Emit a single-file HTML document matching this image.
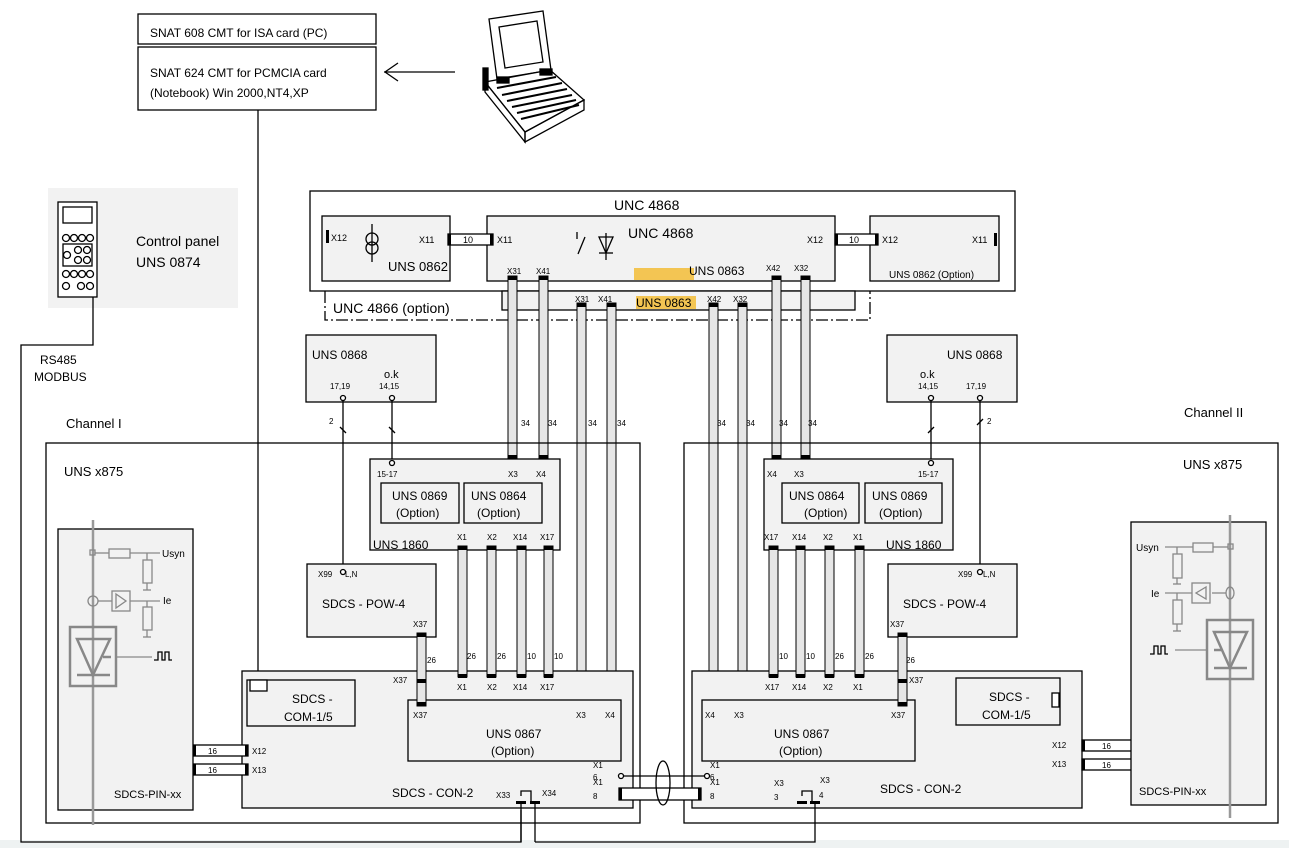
<!DOCTYPE html>
<html><head><meta charset="utf-8"><style>
html,body{margin:0;padding:0;background:#fff;width:1289px;height:848px;overflow:hidden}
svg{display:block;font-family:"Liberation Sans",sans-serif}
.b{fill:#f2f2f2;stroke:#000;stroke-width:1.3}
.w{fill:#fff;stroke:#000;stroke-width:1.3}
.l{stroke:#000;stroke-width:1.3;fill:none}
.r{fill:#e6e6e6;stroke:#000;stroke-width:1}
.c{fill:#000}
.g{stroke:#888;fill:none;stroke-width:1.3}
</style></head><body>
<svg width="1289" height="848" viewBox="0 0 1289 848" xmlns="http://www.w3.org/2000/svg">
<rect x="0" y="840" width="1289" height="8" fill="#eef2f2"/>
<!-- SNAT boxes -->
<rect class="w" x="138" y="14" width="238" height="30"/>
<text x="150" y="37" font-size="12">SNAT 608 CMT for ISA card (PC)</text>
<rect class="w" x="138" y="47" width="238" height="63"/>
<text x="150" y="77" font-size="12">SNAT 624 CMT for PCMCIA card</text>
<text x="150" y="97" font-size="12">(Notebook) Win 2000,NT4,XP</text>
<line class="l" x1="258" y1="110" x2="258" y2="680"/>
<line class="l" x1="384" y1="72" x2="455" y2="72" stroke-width="2.2"/>
<polyline class="l" points="398,63 385,72 398,81" stroke-width="2.5"/>
<!-- laptop -->
<g class="l" stroke-width="1.2">
<polygon points="489,19 543,11 551,70 497,79" fill="#fff"/>
<polygon points="499,27 537,21 543,62 505,68"/>
<polygon points="485,82 550,70 584,100 525,132" fill="#fff"/>
<polygon points="485,82 485,92 525,142 525,132"/>
<polygon points="525,132 584,100 584,110 525,142"/>
<line x1="497" y1="88" x2="556" y2="77" stroke-width="2"/><line x1="502" y1="95" x2="562" y2="83" stroke-width="2"/><line x1="507" y1="101" x2="567" y2="89" stroke-width="2"/><line x1="512" y1="107" x2="572" y2="95" stroke-width="2"/><line x1="517" y1="113" x2="576" y2="100" stroke-width="2"/><line x1="521" y1="119" x2="579" y2="105" stroke-width="2"/>
<rect x="483" y="68" width="5" height="22" fill="#000"/>
<rect x="497" y="77" width="12" height="6" fill="#000"/><rect x="540" y="69" width="12" height="6" fill="#000"/>
</g>
<!-- control panel -->
<rect x="48" y="188" width="190" height="120" fill="#f2f2f2"/>
<rect class="w" x="58" y="202" width="39" height="95" stroke-width="1.5"/>
<rect class="l" x="63" y="207" width="29" height="16"/>
<rect class="l" x="63" y="244" width="29" height="22"/>
<g class="l" stroke-width="1">
<circle cx="66" cy="238" r="3.5"/><circle cx="74" cy="238" r="3.5"/><circle cx="82" cy="238" r="3.5"/><circle cx="90" cy="238" r="3.5"/>
<circle cx="67" cy="255" r="3.5"/><circle cx="78" cy="250" r="3.5"/><circle cx="87" cy="250" r="3.5"/><circle cx="78" cy="260" r="3.5"/><circle cx="87" cy="260" r="3.5"/>
<circle cx="66" cy="274" r="3.5"/><circle cx="74" cy="274" r="3.5"/><circle cx="82" cy="274" r="3.5"/><circle cx="90" cy="274" r="3.5"/>
<circle cx="66" cy="286" r="3.5"/><circle cx="81" cy="286" r="3.5"/><circle cx="90" cy="286" r="3.5"/>
</g>
<text x="136" y="246" font-size="14">Control panel</text>
<text x="136" y="267" font-size="14">UNS 0874</text>
<polyline class="l" points="93,297 93,345 21,345 21,842 521,842 521,810"/>
<text x="40" y="364" font-size="12">RS485</text>
<text x="34" y="381" font-size="12">MODBUS</text>
<!-- UNC 4868 -->
<rect class="w" x="310" y="191" width="705" height="100"/>
<text x="614" y="210" font-size="14">UNC 4868</text>
<rect class="b" x="502" y="291" width="353" height="19"/>
<polyline class="l" points="325,291 325,320 870,320 870,291" stroke-width="2" stroke-dasharray="12,3,2,3"/>
<text x="333" y="313" font-size="14">UNC 4866 (option)</text>
<rect x="636" y="296" width="60" height="13" fill="#f3c553"/>
<text x="636" y="307" font-size="12">UNS 0863</text>
<rect class="b" x="322" y="216" width="128" height="65"/>
<rect class="c" x="326" y="230" width="3" height="13"/>
<text x="331" y="241" font-size="9">X12</text>
<text x="419" y="243" font-size="9">X11</text>
<line class="l" x1="372" y1="224" x2="372" y2="262"/><circle class="l" cx="372" cy="239" r="6"/><circle class="l" cx="372" cy="248" r="6"/>
<text x="388" y="271" font-size="13">UNS 0862</text>
<rect class="b" x="487" y="216" width="348" height="65"/>
<text x="628" y="238" font-size="14">UNC 4868</text>
<line class="l" x1="577" y1="232" x2="577" y2="239"/><line class="l" x1="585" y1="237" x2="578" y2="254"/>
<polygon class="l" points="599,237 613,237 606,253"/><line class="l" x1="599" y1="253" x2="613" y2="253"/><line class="l" x1="606" y1="233" x2="606" y2="260"/>
<rect x="634" y="268" width="60" height="12" fill="#f3c553"/>
<text x="689" y="275" font-size="12">UNS 0863</text>
<text x="497" y="243" font-size="9">X11</text>
<text x="807" y="243" font-size="9">X12</text>
<rect class="b" x="870" y="216" width="129" height="65"/>
<text x="882" y="243" font-size="9">X12</text><text x="972" y="243" font-size="9">X11</text>
<rect class="c" x="994" y="233" width="3" height="13"/>
<text x="889" y="278" font-size="10">UNS 0862 (Option)</text>
<rect class="w" x="448" y="234" width="45" height="11"/><rect class="c" x="448" y="234" width="3" height="11"/><rect class="c" x="490" y="234" width="3" height="11"/>
<text x="463" y="243" font-size="9">10</text>
<rect class="w" x="835" y="234" width="43" height="11"/><rect class="c" x="835" y="234" width="3" height="11"/><rect class="c" x="875" y="234" width="3" height="11"/>
<text x="849" y="243" font-size="9">10</text>
<!-- long ribbons -->
<g font-size="8">
<text x="507" y="274">X31</text><text x="536" y="274">X41</text><text x="766" y="271">X42</text><text x="794" y="271">X32</text>
<text x="575" y="302">X31</text><text x="598" y="302">X41</text><text x="707" y="302">X42</text><text x="733" y="302">X32</text>
</g>
<rect class="r" x="508" y="276" width="9" height="182"/><rect class="c" x="508" y="276" width="9" height="4"/><rect class="c" x="508" y="455" width="9" height="4"/>
<rect class="r" x="539" y="276" width="9" height="182"/><rect class="c" x="539" y="276" width="9" height="4"/><rect class="c" x="539" y="455" width="9" height="4"/>
<rect class="r" x="577" y="303" width="9" height="400"/><rect class="c" x="577" y="303" width="9" height="4"/><rect class="c" x="577" y="700" width="9" height="4"/>
<rect class="r" x="607" y="303" width="9" height="400"/><rect class="c" x="607" y="303" width="9" height="4"/><rect class="c" x="607" y="700" width="9" height="4"/>
<rect class="r" x="709" y="303" width="9" height="400"/><rect class="c" x="709" y="303" width="9" height="4"/><rect class="c" x="709" y="700" width="9" height="4"/>
<rect class="r" x="738" y="303" width="9" height="400"/><rect class="c" x="738" y="303" width="9" height="4"/><rect class="c" x="738" y="700" width="9" height="4"/>
<rect class="r" x="772" y="276" width="9" height="182"/><rect class="c" x="772" y="276" width="9" height="4"/><rect class="c" x="772" y="455" width="9" height="4"/>
<rect class="r" x="801" y="276" width="9" height="182"/><rect class="c" x="801" y="276" width="9" height="4"/><rect class="c" x="801" y="455" width="9" height="4"/>
<g font-size="8"><text x="521" y="426">34</text><text x="548" y="426">34</text><text x="588" y="426">34</text><text x="617" y="426">34</text><text x="717" y="426">34</text><text x="746" y="426">34</text><text x="779" y="426">34</text><text x="808" y="426">34</text></g>
<!-- UNS 0868 -->
<rect class="b" x="306" y="335" width="130" height="67"/>
<text x="312" y="359" font-size="12">UNS 0868</text><text x="384" y="378" font-size="11">o.k</text>
<text x="330" y="389" font-size="8">17,19</text><text x="379" y="389" font-size="8">14,15</text>
<rect class="b" x="887" y="335" width="130" height="67"/>
<text x="947" y="359" font-size="12">UNS 0868</text><text x="920" y="378" font-size="11">o.k</text>
<text x="918" y="389" font-size="8">14,15</text><text x="966" y="389" font-size="8">17,19</text>
<!-- channel boxes -->
<text x="66" y="428" font-size="13">Channel I</text>
<text x="1184" y="417" font-size="13">Channel II</text>
<rect class="l" x="46" y="443" width="594" height="380"/>
<rect class="l" x="684" y="443" width="594" height="380"/>
<text x="64" y="476" font-size="13">UNS x875</text>
<text x="1183" y="469" font-size="13">UNS x875</text>
<!-- wires from 0868 -->
<line class="l" x1="343" y1="398" x2="343" y2="572"/><line class="l" x1="392" y1="398" x2="392" y2="462"/>
<line class="l" x1="931" y1="398" x2="931" y2="462"/><line class="l" x1="980" y1="398" x2="980" y2="572"/>
<g class="l" stroke-width="1"><line x1="340" y1="427" x2="346" y2="433"/><line x1="389" y1="427" x2="395" y2="433"/><line x1="928" y1="433" x2="934" y2="427"/><line x1="977" y1="425" x2="983" y2="419"/></g>
<text x="329" y="424" font-size="8">2</text><text x="987" y="424" font-size="8">2</text>
<!-- UNS 1860 left -->
<rect class="b" x="370" y="459" width="190" height="91"/>
<text x="377" y="477" font-size="8">15-17</text><text x="508" y="477" font-size="8">X3</text><text x="536" y="477" font-size="8">X4</text>
<rect class="b" x="381" y="483" width="78" height="40"/><text x="392" y="500" font-size="12">UNS 0869</text><text x="396" y="517" font-size="12">(Option)</text>
<rect class="b" x="464" y="483" width="78" height="40"/><text x="471" y="500" font-size="12">UNS 0864</text><text x="477" y="517" font-size="12">(Option)</text>
<text x="373" y="549" font-size="12">UNS 1860</text>
<g font-size="8"><text x="457" y="540">X1</text><text x="487" y="540">X2</text><text x="513" y="540">X14</text><text x="540" y="540">X17</text></g>
<!-- UNS 1860 right -->
<rect class="b" x="764" y="459" width="189" height="91"/>
<text x="767" y="477" font-size="8">X4</text><text x="794" y="477" font-size="8">X3</text><text x="918" y="477" font-size="8">15-17</text>
<rect class="b" x="782" y="483" width="77" height="40"/><text x="789" y="500" font-size="12">UNS 0864</text><text x="804" y="517" font-size="12">(Option)</text>
<rect class="b" x="865" y="483" width="77" height="40"/><text x="872" y="500" font-size="12">UNS 0869</text><text x="879" y="517" font-size="12">(Option)</text>
<text x="886" y="549" font-size="12">UNS 1860</text>
<g font-size="8"><text x="764" y="540">X17</text><text x="792" y="540">X14</text><text x="823" y="540">X2</text><text x="853" y="540">X1</text></g>
<circle class="w" cx="392" cy="463" r="2.5"/><circle class="w" cx="931" cy="463" r="2.5"/>
<circle class="w" cx="392" cy="398" r="2.5"/><circle class="w" cx="343" cy="398" r="2.5"/><circle class="w" cx="931" cy="398" r="2.5"/><circle class="w" cx="980" cy="398" r="2.5"/>
<!-- POW -->
<rect class="b" x="307" y="564" width="129" height="73"/>
<text x="318" y="577" font-size="8">X99</text><text x="345" y="577" font-size="8">L,N</text><circle class="w" cx="343" cy="572" r="2.5"/>
<text x="322" y="608" font-size="12">SDCS - POW-4</text><text x="413" y="627" font-size="8">X37</text>
<rect class="b" x="888" y="564" width="129" height="73"/>
<text x="958" y="577" font-size="8">X99</text><text x="983" y="577" font-size="8">L,N</text><circle class="w" cx="980" cy="572" r="2.5"/>
<text x="903" y="608" font-size="12">SDCS - POW-4</text><text x="890" y="627" font-size="8">X37</text>
<!-- CON-2 left -->
<rect class="b" x="242" y="671" width="391" height="137"/>
<rect class="b" x="247" y="680" width="108" height="46"/><rect class="w" x="250" y="680" width="17" height="11"/>
<text x="292" y="703" font-size="12">SDCS -</text><text x="284" y="721" font-size="12">COM-1/5</text>
<rect class="b" x="408" y="700" width="213" height="61"/>
<text x="486" y="738" font-size="12">UNS 0867</text><text x="491" y="755" font-size="12">(Option)</text>
<g font-size="8"><text x="393" y="683">X37</text><text x="413" y="718">X37</text><text x="457" y="690">X1</text><text x="487" y="690">X2</text><text x="513" y="690">X14</text><text x="540" y="690">X17</text><text x="576" y="718">X3</text><text x="605" y="718">X4</text>
<text x="593" y="768">X1</text><text x="593" y="780">6</text><text x="593" y="785">X1</text><text x="593" y="799">8</text><text x="496" y="798">X33</text><text x="542" y="796">X34</text></g>
<text x="392" y="797" font-size="12">SDCS - CON-2</text>
<!-- CON-2 right -->
<rect class="b" x="692" y="671" width="390" height="137"/>
<rect class="b" x="956" y="678" width="104" height="47"/><rect class="w" x="1052" y="693" width="7" height="14"/>
<text x="989" y="701" font-size="12">SDCS -</text><text x="982" y="719" font-size="12">COM-1/5</text>
<rect class="b" x="702" y="700" width="213" height="61"/>
<text x="774" y="738" font-size="12">UNS 0867</text><text x="779" y="755" font-size="12">(Option)</text>
<g font-size="8"><text x="909" y="683">X37</text><text x="891" y="718">X37</text><text x="765" y="690">X17</text><text x="792" y="690">X14</text><text x="823" y="690">X2</text><text x="853" y="690">X1</text><text x="705" y="718">X4</text><text x="734" y="718">X3</text>
<text x="710" y="768">X1</text><text x="710" y="780">6</text><text x="710" y="785">X1</text><text x="710" y="799">8</text><text x="774" y="786">X3</text><text x="774" y="800">3</text><text x="820" y="783">X3</text><text x="819" y="798">4</text></g>
<text x="880" y="793" font-size="12">SDCS - CON-2</text>
<!-- short ribbons left -->
<rect class="r" x="458" y="546" width="9" height="131"/><rect class="c" x="458" y="546" width="9" height="4"/><rect class="c" x="458" y="674" width="9" height="4"/>
<rect class="r" x="487" y="546" width="9" height="131"/><rect class="c" x="487" y="546" width="9" height="4"/><rect class="c" x="487" y="674" width="9" height="4"/>
<rect class="r" x="517" y="546" width="9" height="131"/><rect class="c" x="517" y="546" width="9" height="4"/><rect class="c" x="517" y="674" width="9" height="4"/>
<rect class="r" x="544" y="546" width="9" height="131"/><rect class="c" x="544" y="546" width="9" height="4"/><rect class="c" x="544" y="674" width="9" height="4"/>
<rect class="r" x="417" y="633" width="9" height="73"/><rect class="c" x="417" y="633" width="9" height="4"/><rect class="c" x="417" y="679" width="9" height="4"/><rect class="c" x="417" y="702" width="9" height="4"/>
<g font-size="8"><text x="467" y="659">26</text><text x="497" y="659">26</text><text x="527" y="659">10</text><text x="554" y="659">10</text><text x="427" y="663">26</text></g>
<!-- short ribbons right -->
<rect class="r" x="769" y="546" width="9" height="131"/><rect class="c" x="769" y="546" width="9" height="4"/><rect class="c" x="769" y="674" width="9" height="4"/>
<rect class="r" x="796" y="546" width="9" height="131"/><rect class="c" x="796" y="546" width="9" height="4"/><rect class="c" x="796" y="674" width="9" height="4"/>
<rect class="r" x="825" y="546" width="9" height="131"/><rect class="c" x="825" y="546" width="9" height="4"/><rect class="c" x="825" y="674" width="9" height="4"/>
<rect class="r" x="855" y="546" width="9" height="131"/><rect class="c" x="855" y="546" width="9" height="4"/><rect class="c" x="855" y="674" width="9" height="4"/>
<rect class="r" x="898" y="633" width="9" height="73"/><rect class="c" x="898" y="633" width="9" height="4"/><rect class="c" x="898" y="679" width="9" height="4"/><rect class="c" x="898" y="702" width="9" height="4"/>
<g font-size="8"><text x="779" y="659">10</text><text x="806" y="659">10</text><text x="835" y="659">26</text><text x="865" y="659">26</text><text x="906" y="663">26</text></g>
<!-- coupling -->
<line class="l" x1="623" y1="776" x2="705" y2="776"/><circle class="w" cx="621" cy="776" r="2.5"/><circle class="w" cx="707" cy="776" r="2.5"/>
<rect class="w" x="619" y="788" width="82" height="12"/><rect class="c" x="619" y="788" width="3" height="12"/><rect class="c" x="698" y="788" width="3" height="12"/>
<ellipse class="l" cx="663" cy="783" rx="7" ry="22"/>
<!-- X33/X34 -->
<polyline class="l" points="521,842 521,803"/><polyline class="l" points="535,842 535,803"/>
<polyline class="l" points="521,796 521,791 531,791 531,803"/>
<rect class="c" x="516" y="801" width="10" height="3"/><rect class="c" x="530" y="801" width="10" height="3"/>
<polyline class="l" points="535,842 815,842 815,803"/>
<polyline class="l" points="802,796 802,791 812,791 812,803"/>
<rect class="c" x="797" y="801" width="10" height="3"/><rect class="c" x="810" y="801" width="10" height="3"/>
<!-- 16 connectors -->
<rect class="w" x="193" y="745" width="55" height="11"/><rect class="c" x="193" y="745" width="3" height="11"/><rect class="c" x="245" y="745" width="3" height="11"/><text x="208" y="754" font-size="8">16</text>
<rect class="w" x="193" y="764" width="55" height="11"/><rect class="c" x="193" y="764" width="3" height="11"/><rect class="c" x="245" y="764" width="3" height="11"/><text x="208" y="773" font-size="8">16</text>
<g font-size="8"><text x="162" y="754">X12</text><text x="162" y="773">X13</text><text x="252" y="754">X12</text><text x="252" y="773">X13</text>
<text x="1052" y="748">X12</text><text x="1052" y="767">X13</text><text x="1141" y="748">X12</text><text x="1141" y="767">X13</text></g>
<rect class="w" x="1082" y="740" width="55" height="11"/><rect class="c" x="1082" y="740" width="3" height="11"/><rect class="c" x="1134" y="740" width="3" height="11"/><text x="1102" y="749" font-size="8">16</text>
<rect class="w" x="1082" y="759" width="55" height="11"/><rect class="c" x="1082" y="759" width="3" height="11"/><rect class="c" x="1134" y="759" width="3" height="11"/><text x="1102" y="768" font-size="8">16</text>
<!-- PIN left -->
<rect class="b" x="58" y="529" width="135" height="281"/>
<line x1="93" y1="520" x2="93" y2="825" stroke="#999" stroke-width="2.5"/>
<g class="g">
<rect x="90" y="550" width="5" height="5"/><line x1="95" y1="553" x2="109" y2="553"/><rect x="109" y="549" width="21" height="9"/><line x1="130" y1="553" x2="160" y2="553"/>
<line x1="147" y1="553" x2="147" y2="560"/><rect x="143" y="560" width="9" height="23"/><line x1="147" y1="583" x2="147" y2="590"/><line x1="143" y1="590" x2="151" y2="590"/>
<circle cx="93" cy="601" r="5"/><line x1="98" y1="601" x2="112" y2="601"/><rect x="112" y="591" width="18" height="20"/><polygon points="116,594 126,601 116,608"/><line x1="130" y1="601" x2="160" y2="601"/>
<line x1="147" y1="601" x2="147" y2="607"/><rect x="143" y="607" width="9" height="23"/><line x1="147" y1="630" x2="147" y2="637"/><line x1="143" y1="637" x2="151" y2="637"/>
<rect x="70" y="627" width="46" height="59" stroke-width="2.5"/><polygon points="77,639 110,639 93,675" stroke-width="2.5"/><line x1="77" y1="675" x2="110" y2="675" stroke-width="2.5"/><line x1="103" y1="657" x2="111" y2="657" stroke-width="2.5"/>
<line x1="116" y1="657" x2="152" y2="657"/>
</g>
<polyline class="l" points="154,660 158,660 158,652 162,652 162,660 165,660 165,652 169,652 169,660 172,660" stroke-width="1"/>
<text x="162" y="557" font-size="10">Usyn</text><text x="163" y="604" font-size="10">Ie</text>
<text x="114" y="798" font-size="11">SDCS-PIN-xx</text>
<!-- PIN right -->
<rect class="b" x="1131" y="522" width="135" height="283"/>
<line x1="1230" y1="515" x2="1230" y2="818" stroke="#999" stroke-width="2.5"/>
<g class="g">
<rect x="1228" y="544" width="5" height="5"/><line x1="1228" y1="547" x2="1213" y2="547"/><rect x="1193" y="543" width="20" height="9"/><line x1="1193" y1="547" x2="1165" y2="547"/>
<line x1="1177" y1="547" x2="1177" y2="554"/><rect x="1173" y="554" width="9" height="24"/><line x1="1177" y1="578" x2="1177" y2="584"/><line x1="1173" y1="584" x2="1181" y2="584"/>
<ellipse cx="1230" cy="593" rx="4" ry="6"/><line x1="1226" y1="593" x2="1212" y2="593"/><rect x="1192" y="583" width="18" height="20"/><polygon points="1206,587 1196,593 1206,599"/><line x1="1192" y1="593" x2="1165" y2="593"/>
<line x1="1177" y1="593" x2="1177" y2="600"/><rect x="1173" y="600" width="9" height="24"/><line x1="1177" y1="624" x2="1177" y2="631"/><line x1="1173" y1="631" x2="1181" y2="631"/>
<rect x="1207" y="620" width="46" height="59" stroke-width="2.5"/><polygon points="1214,632 1247,632 1230,668" stroke-width="2.5"/><line x1="1214" y1="668" x2="1247" y2="668" stroke-width="2.5"/><line x1="1214" y1="650" x2="1222" y2="650" stroke-width="2.5"/>
<line x1="1207" y1="650" x2="1175" y2="650"/>
</g>
<polyline class="l" points="1150,654 1154,654 1154,646 1158,646 1158,654 1161,654 1161,646 1165,646 1165,654 1168,654" stroke-width="1"/>
<text x="1136" y="551" font-size="10">Usyn</text><text x="1151" y="597" font-size="10">Ie</text>
<text x="1139" y="795" font-size="11">SDCS-PIN-xx</text>
</svg>
</body></html>
